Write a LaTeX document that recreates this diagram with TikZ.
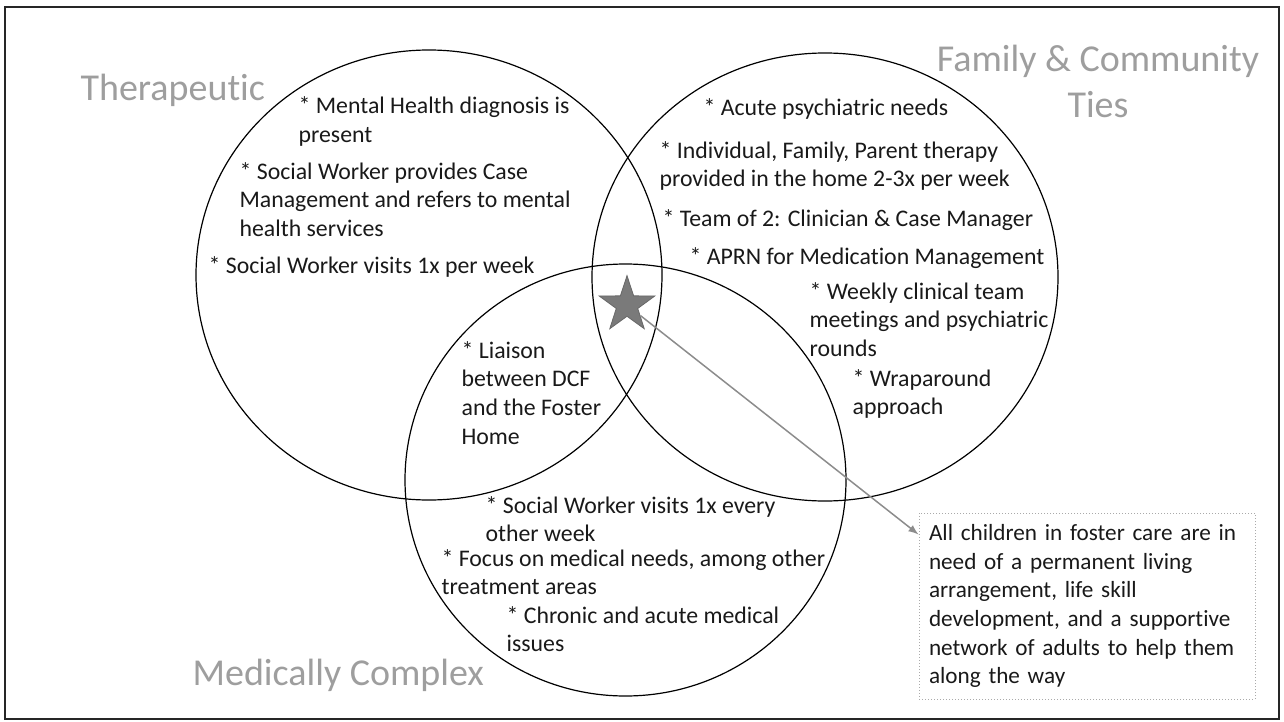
\documentclass[tikz,border=0pt]{standalone}
\usepackage{fontspec}
\setmainfont{Carlito}[Ligatures=NoCommon]
\usetikzlibrary{shapes.geometric}

\definecolor{titlegray}{RGB}{158,158,158}
\definecolor{stargray}{RGB}{122,122,122}
\definecolor{arrowgray}{RGB}{140,140,140}
\definecolor{boxgray}{RGB}{170,170,170}

\tikzset{every picture/.style={line width=0.6pt}}

\begin{document}
\begin{tikzpicture}[x=0.5pt,y=0.5pt,yscale=-1,
	item/.style={anchor=base west,inner sep=0pt,align=left,text=black!90,font=\fontsize{11.9}{14.35}\selectfont},
	heading/.style={anchor=base west,inner sep=0pt,text=titlegray,font=\fontsize{19}{23}\selectfont}]
	\useasboundingbox (0,0) rectangle (1284,722);
	
	%Shape: Rectangle [id:dp2204817365]
	\draw [line width=1.25pt,black!85] (5,7) rectangle (1279,719);
	%Shape: Ellipse [id:dp5531908412]
	\draw (429,275) ellipse [x radius=233,y radius=225];
	%Shape: Ellipse [id:dp8817402265]
	\draw (825,277) ellipse [x radius=233,y radius=224];
	%Shape: Ellipse [id:dp1379960524]
	\draw (625.5,480) ellipse [x radius=220.5,y radius=216];
	
	%Shape: Star [id:dp6620941873]
	\node [star,star points=5,star point ratio=2.6,minimum size=29.3pt,inner sep=0pt,fill=stargray,draw=stargray!85!black,line width=0.4pt] (star) at (627,305) {};
	
	% Text Node
	\node [draw=boxgray,densely dotted,line width=0.5pt,inner xsep=5pt,text width=158pt,minimum height=93pt,align=left,text=black!90,font=\fontsize{11.6}{14.35}\selectfont] (box) at (1087,606) {All children in foster care are in\\need of a permanent living\\arrangement, life skill\\development, and a supportive\\network of adults to help them\\along the way};
	
	%Straight Lines [id:da4407712958]
	\draw [arrowgray,line width=0.75pt,-latex] (star) -- (box.157);
	
	% Text Node
	\node [heading] (therTitle) at (80,101) {Therapeutic};
	% Text Node
	\node [heading,anchor=base,align=center] (famTitle) at (1098,118) {Family \& Community\\Ties};
	% Text Node
	\node [heading] (medTitle) at (192,685) {Medically Complex};
	
	% Text Node
	\node [item] (ther1) at (298,142) {* Mental Health diagnosis is\\present};
	% Text Node
	\node [item] (ther2) at (239,236.4) {* Social Worker provides Case\\Management and refers to mental\\health services};
	% Text Node
	\node [item] (ther3) at (208,273) {* Social Worker visits 1x per week};
	
	% Text Node
	\node [item] (fam1) at (703,116) {* Acute psychiatric needs};
	% Text Node
	\node [item] (fam2) at (659,186.7) {* Individual, Family, Parent therapy\\provided in the home 2-3x per week};
	% Text Node
	\node [item] (fam3) at (662,226) {* Team of 2: Clinician \& Case Manager};
	% Text Node
	\node [item] (fam4) at (689,264) {* APRN for Medication Management};
	% Text Node
	\node [item] (fam5) at (809,356.4) {* Weekly clinical team\\meetings and psychiatric\\rounds};
	% Text Node
	\node [item] (fam6) at (852,414.7) {* Wraparound\\approach};
	
	% Text Node
	\node [item] (both1) at (461,444.1) {* Liaison\\between DCF\\and the Foster\\Home};
	
	% Text Node
	\node [item] (med1) at (485,541.7) {* Social Worker visits 1x every\\other week};
	% Text Node
	\node [item] (med2) at (441,594.7) {* Focus on medical needs, among other\\treatment areas};
	% Text Node
	\node [item] (med3) at (506,651.7) {* Chronic and acute medical\\issues};
	
\end{tikzpicture}
\end{document}
